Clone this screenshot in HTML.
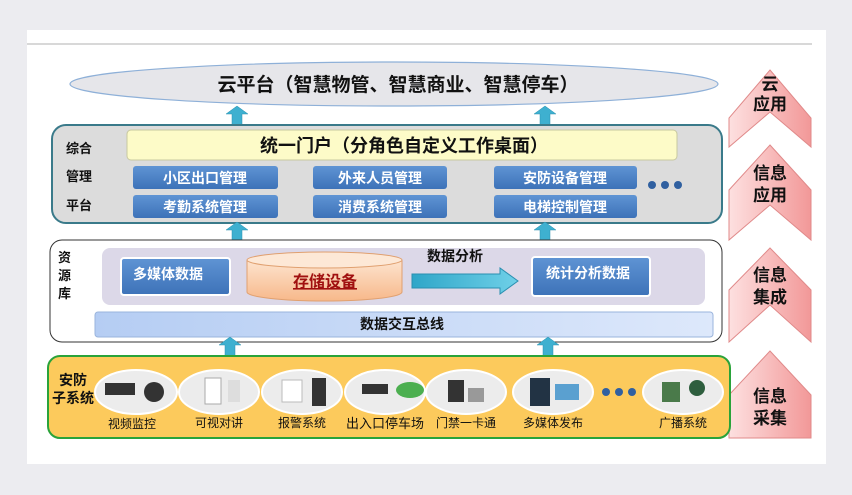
<!DOCTYPE html>
<html><head><meta charset="utf-8"><style>
body{margin:0;background:#ececf0;}
svg{display:block;font-family:"Liberation Sans","Noto Sans CJK SC",sans-serif;}
</style></head><body>
<svg width="852" height="495" viewBox="0 0 852 495">
<defs>
<linearGradient id="pk" x1="0" x2="1"><stop offset="0" stop-color="#fde0e0"/><stop offset="1" stop-color="#f29898"/></linearGradient>
<linearGradient id="bl" x1="0" y1="0" x2="0" y2="1"><stop offset="0" stop-color="#5f94d4"/><stop offset="1" stop-color="#3d72b8"/></linearGradient>
<linearGradient id="bus" x1="0" x2="1"><stop offset="0" stop-color="#b5cdf3"/><stop offset="1" stop-color="#dde8fb"/></linearGradient>
<linearGradient id="cyl" x1="0" y1="0" x2="0" y2="1"><stop offset="0" stop-color="#fde4cf"/><stop offset="1" stop-color="#f7b88a"/></linearGradient>
<linearGradient id="ar" x1="0" x2="1"><stop offset="0" stop-color="#2fa6c8"/><stop offset="1" stop-color="#6fd0e8"/></linearGradient>
<g id="up"><polygon points="-5,19 -5,8 -11,8 0,0 11,8 5,8 5,19" fill="#3eb0d0" stroke="#2a90b0" stroke-width="0.5"/></g>
</defs>
<rect x="27" y="30" width="799" height="434" fill="#fff"/>
<line x1="27" y1="44" x2="812" y2="44" stroke="#ccc" stroke-width="1.5"/>
<g fill="url(#pk)" stroke="#e08a8a" stroke-width="1">
<polygon points="770,70 811,118 811,147 770,112 729,147 729,118"/>
<polygon points="770,145 811,190 811,240 770,205 729,240 729,190"/>
<polygon points="770,248 811,290 811,342 770,305 729,342 729,290"/>
<polygon points="770,351 811,395 811,438 729,438 729,395"/>
</g>
<g font-size="17" font-weight="bold" fill="#111" text-anchor="middle">
<text x="770" y="90">云</text><text x="770" y="110">应用</text>
<text x="770" y="179">信息</text><text x="770" y="201">应用</text>
<text x="770" y="281">信息</text><text x="770" y="303">集成</text>
<text x="770" y="402">信息</text><text x="770" y="424">采集</text>
</g>
<ellipse cx="394" cy="84" rx="324" ry="22" fill="#e6e6ea" stroke="#8eb0d8" stroke-width="1.2"/>
<text x="398" y="91" font-size="19" font-weight="bold" text-anchor="middle" fill="#111">云平台（智慧物管、智慧商业、智慧停车）</text>
<use href="#up" x="237" y="106"/><use href="#up" x="545" y="106"/>
<rect x="52" y="125" width="670" height="98" rx="14" fill="#dcdcdc" stroke="#3a7a8a" stroke-width="2"/>
<rect x="127" y="130" width="550" height="30" rx="4" fill="#fdfbc8" stroke="#c8c8a0"/>
<text x="404" y="152" font-size="18" font-weight="bold" text-anchor="middle" fill="#111">统一门户（分角色自定义工作桌面）</text>
<g font-size="13" font-weight="bold" fill="#111"><text x="66" y="153">综合</text><text x="66" y="181">管理</text><text x="66" y="210">平台</text></g>
<g fill="url(#bl)"><rect x="133" y="166" width="145" height="23" rx="3"/><rect x="313" y="166" width="134" height="23" rx="3"/><rect x="494" y="166" width="143" height="23" rx="3"/>
<rect x="133" y="195" width="145" height="23" rx="3"/><rect x="313" y="195" width="134" height="23" rx="3"/><rect x="494" y="195" width="143" height="23" rx="3"/></g>
<g font-size="14" font-weight="bold" fill="#fff" text-anchor="middle"><text x="205" y="183">小区出口管理</text><text x="380" y="183">外来人员管理</text><text x="565" y="183">安防设备管理</text>
<text x="205" y="212">考勤系统管理</text><text x="380" y="212">消费系统管理</text><text x="565" y="212">电梯控制管理</text></g>
<g fill="#3060a0"><circle cx="652" cy="185" r="4"/><circle cx="665" cy="185" r="4"/><circle cx="678" cy="185" r="4"/></g>
<use href="#up" x="237" y="222"/><use href="#up" x="545" y="222"/>
<rect x="50" y="240" width="672" height="102" rx="12" fill="#fff" stroke="#333" stroke-width="1"/>
<g font-size="13" font-weight="bold" fill="#111"><text x="58" y="262">资</text><text x="58" y="280">源</text><text x="58" y="298">库</text></g>
<rect x="102" y="248" width="603" height="57" rx="8" fill="#dcd8e8"/>
<rect x="121" y="258" width="109" height="37" rx="3" fill="url(#bl)" stroke="#fff" stroke-width="2"/>
<text x="168" y="279" font-size="14" font-weight="bold" fill="#fff" text-anchor="middle">多媒体数据</text>
<path d="M247,260 v32 a77,9 0 0 0 155,0 v-32" fill="url(#cyl)" stroke="#e0a070"/>
<ellipse cx="324.5" cy="260" rx="77.5" ry="8" fill="#fde8d6" stroke="#e0a070"/>
<text x="325" y="287" font-size="16" font-weight="bold" fill="#a01010" text-anchor="middle" text-decoration="underline">存储设备</text>
<text x="455" y="261" font-size="14" font-weight="bold" fill="#111" text-anchor="middle">数据分析</text>
<polygon points="412,274 500,274 500,268 518,281 500,294 500,288 412,288" fill="url(#ar)" stroke="#2a8fb0"/>
<rect x="532" y="257" width="118" height="39" rx="3" fill="url(#bl)" stroke="#fff" stroke-width="2"/>
<text x="588" y="278" font-size="14" font-weight="bold" fill="#fff" text-anchor="middle">统计分析数据</text>
<rect x="95" y="312" width="618" height="25" rx="3" fill="url(#bus)" stroke="#9ab4dc"/>
<text x="402" y="329" font-size="14" font-weight="bold" fill="#111" text-anchor="middle">数据交互总线</text>
<use href="#up" x="230" y="337"/><use href="#up" x="548" y="337"/>
<rect x="48" y="356" width="682" height="82" rx="12" fill="#fcca5c" stroke="#2aa33a" stroke-width="2"/>
<g font-size="14" font-weight="bold" fill="#111" text-anchor="middle"><text x="73" y="385">安防</text><text x="73" y="403">子系统</text></g>
<g fill="#ececec" stroke="#fff" stroke-width="2">
<ellipse cx="136" cy="392" rx="41" ry="22"/><ellipse cx="219" cy="392" rx="40" ry="22"/><ellipse cx="302" cy="392" rx="40" ry="22"/><ellipse cx="385" cy="392" rx="40" ry="22"/><ellipse cx="466" cy="392" rx="40" ry="22"/><ellipse cx="553" cy="392" rx="40" ry="22"/><ellipse cx="683" cy="392" rx="40" ry="22"/></g>
<g fill="#333"><rect x="105" y="383" width="30" height="12"/><circle cx="154" cy="392" r="10"/><rect x="205" y="378" width="16" height="26" fill="#fff" stroke="#aaa"/><rect x="228" y="380" width="12" height="22" fill="#ddd"/><rect x="282" y="380" width="20" height="22" fill="#fff" stroke="#bbb"/><rect x="312" y="378" width="14" height="28"/><rect x="362" y="384" width="26" height="10"/><ellipse cx="410" cy="390" rx="14" ry="8" fill="#4caf50"/><rect x="448" y="380" width="16" height="22"/><rect x="468" y="388" width="16" height="14" fill="#999"/><rect x="530" y="378" width="20" height="28" fill="#234"/><rect x="555" y="384" width="24" height="16" fill="#5aa0d0"/><rect x="662" y="382" width="18" height="20" fill="#4a7a4a"/><circle cx="697" cy="388" r="8" fill="#2e5e3e"/></g>
<g fill="#3060a0"><circle cx="606" cy="392" r="4"/><circle cx="619" cy="392" r="4"/><circle cx="632" cy="392" r="4"/></g>
<g font-size="12" fill="#111" text-anchor="middle"><text x="132" y="428">视频监控</text><text x="219" y="427">可视对讲</text><text x="302" y="427">报警系统</text><text x="385" y="428" font-size="13">出入口停车场</text><text x="466" y="427">门禁一卡通</text><text x="553" y="427">多媒体发布</text><text x="683" y="427">广播系统</text></g>
</svg>
</body></html>
